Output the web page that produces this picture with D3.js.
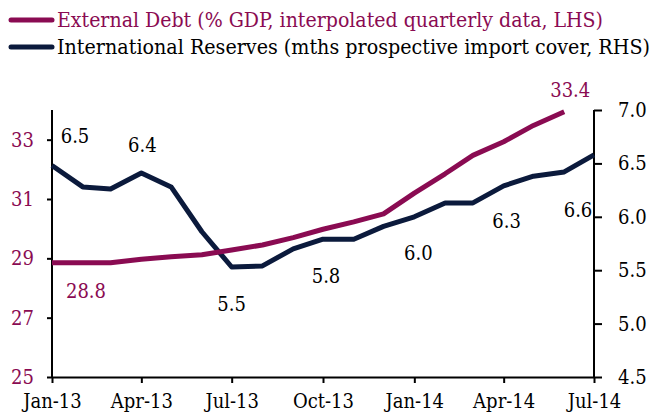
<!DOCTYPE html>
<html><head><meta charset="utf-8">
<script src="https://cdn.jsdelivr.net/npm/d3@7"></script>
<style>body{margin:0;background:#fff;} svg{display:block;}</style>
</head><body>
<svg id="c" width="652" height="418"></svg>
<script>
const months = ["2013-01","2013-02","2013-03","2013-04","2013-05","2013-06","2013-07","2013-08","2013-09","2013-10","2013-11","2013-12","2014-01","2014-02","2014-03","2014-04","2014-05","2014-06","2014-07"];
const debt = [28.85,28.85,28.85,28.97,29.05,29.12,29.28,29.45,29.7,29.98,30.23,30.5,31.2,31.85,32.47,32.93,33.48,33.94,null];
const reserves = [6.48,6.28,6.26,6.41,6.28,5.86,5.53,5.54,5.70,5.79,5.79,5.91,6.0,6.13,6.13,6.29,6.38,6.42,6.58];
const xTickLabels = ["Jan-13","Apr-13","Jul-13","Oct-13","Jan-14","Apr-14","Jul-14"];
const leftTicks = [25,27,29,31,33];
const rightTicks = [4.5,5.0,5.5,6.0,6.5,7.0];
const legendLabels = ["External Debt (% GDP, interpolated quarterly data, LHS)","International Reserves (mths prospective import cover, RHS)"];
const debtLabels = [[0,"28.8"],[17,"33.4"]];
const resLabels = [[0,"6.5"],[3,"6.4"],[6,"5.5"],[9,"5.8"],[12,"6.0"],[15,"6.3"],[18,"6.6"]];

const MAROON = "#8a0b52", NAVY = "#0b1a3c";
const FONT = "'DejaVu Serif Condensed','DejaVu Serif',serif";
const parse = d3.timeParse("%Y-%m");
const dates = months.map(parse);

const svg = d3.select("#c");
const L = 52, R = 594, T = 110, B = 377;
const x = d3.scaleTime().domain([dates[0], dates[dates.length-1]]).range([L, R]);
const yL = d3.scaleLinear().domain([25,34]).range([B, T]);
const yR = d3.scaleLinear().domain([4.5,7.0]).range([B, T]);

const gL = svg.append("g").attr("transform",`translate(${L},0)`)
  .call(d3.axisLeft(yL).tickValues(leftTicks).tickSize(5).tickSizeOuter(0).tickFormat(d3.format("d")));
const gR = svg.append("g").attr("transform",`translate(${R},0)`)
  .call(d3.axisRight(yR).tickValues(rightTicks).tickSize(8).tickSizeOuter(0).tickFormat(d3.format(".1f")));
const qDates = xTickLabels.map((s,i)=>dates[i*3]);
const gB = svg.append("g").attr("transform",`translate(0,${B})`)
  .call(d3.axisBottom(x).tickValues(qDates).tickSize(6).tickSizeOuter(0).tickFormat((d,i)=>xTickLabels[i]));

[gL,gR,gB].forEach(g=>{
  g.select(".domain").attr("stroke","#000").attr("stroke-width",2);
  g.selectAll(".tick line").attr("stroke","#000").attr("stroke-width",2);
  g.selectAll("text").attr("font-family",FONT).attr("font-size",20);
});
gL.selectAll("text").attr("fill",MAROON).attr("x",-18);
gR.selectAll("text").attr("fill","#000").attr("x",24);
gB.selectAll("text").attr("fill","#000").attr("y",17);
gL.select(".domain").attr("d",`M0,${T}V${B}`);
gR.select(".domain").attr("d",`M0,${T}V${B}`);

const idx = d3.range(months.length);
const lineD = d3.line().defined(i=>debt[i]!=null).x(i=>x(dates[i])).y(i=>yL(debt[i]));
const lineR = d3.line().x(i=>x(dates[i])).y(i=>yR(reserves[i]));
svg.append("path").attr("d",lineR(idx)).attr("fill","none").attr("stroke",NAVY).attr("stroke-width",5).attr("stroke-linejoin","round");
svg.append("path").attr("d",lineD(idx)).attr("fill","none").attr("stroke",MAROON).attr("stroke-width",5).attr("stroke-linejoin","round");

const lblPos = {"28.8":[34,28],"33.4":[6,-22],"6.5":[23,-30],"6.4":[1,-28],"5.5":[0,37],"5.8":[3,37],"6.0":[4,36],"6.3":[3,35],"6.6":[-16,55]};
debtLabels.forEach(([i,t])=>{
  svg.append("text").attr("x",x(dates[i])+lblPos[t][0]).attr("y",yL(debt[i])+lblPos[t][1])
    .attr("text-anchor","middle").attr("dominant-baseline","central")
    .attr("font-family",FONT).attr("font-size",20).attr("fill",MAROON).text(t);
});
resLabels.forEach(([i,t])=>{
  svg.append("text").attr("x",x(dates[i])+lblPos[t][0]).attr("y",yR(reserves[i])+lblPos[t][1])
    .attr("text-anchor","middle").attr("dominant-baseline","central")
    .attr("font-family",FONT).attr("font-size",20).attr("fill","#000").text(t);
});

const legColors = [MAROON, NAVY];
const legText = [MAROON, "#000"];
const legWidths = [546, 593];
legendLabels.forEach((t,i)=>{
  const y = 20 + i*27;
  svg.append("line").attr("x1",11).attr("x2",52).attr("y1",y).attr("y2",y)
    .attr("stroke",legColors[i]).attr("stroke-width",5).attr("stroke-linecap","round");
  svg.append("text").attr("x",57).attr("y",y).attr("dominant-baseline","central")
    .attr("font-family",FONT).attr("font-size",21).attr("fill",legText[i])
    .attr("textLength",legWidths[i]).attr("lengthAdjust","spacingAndGlyphs").text(t);
});
</script>
</body></html>
